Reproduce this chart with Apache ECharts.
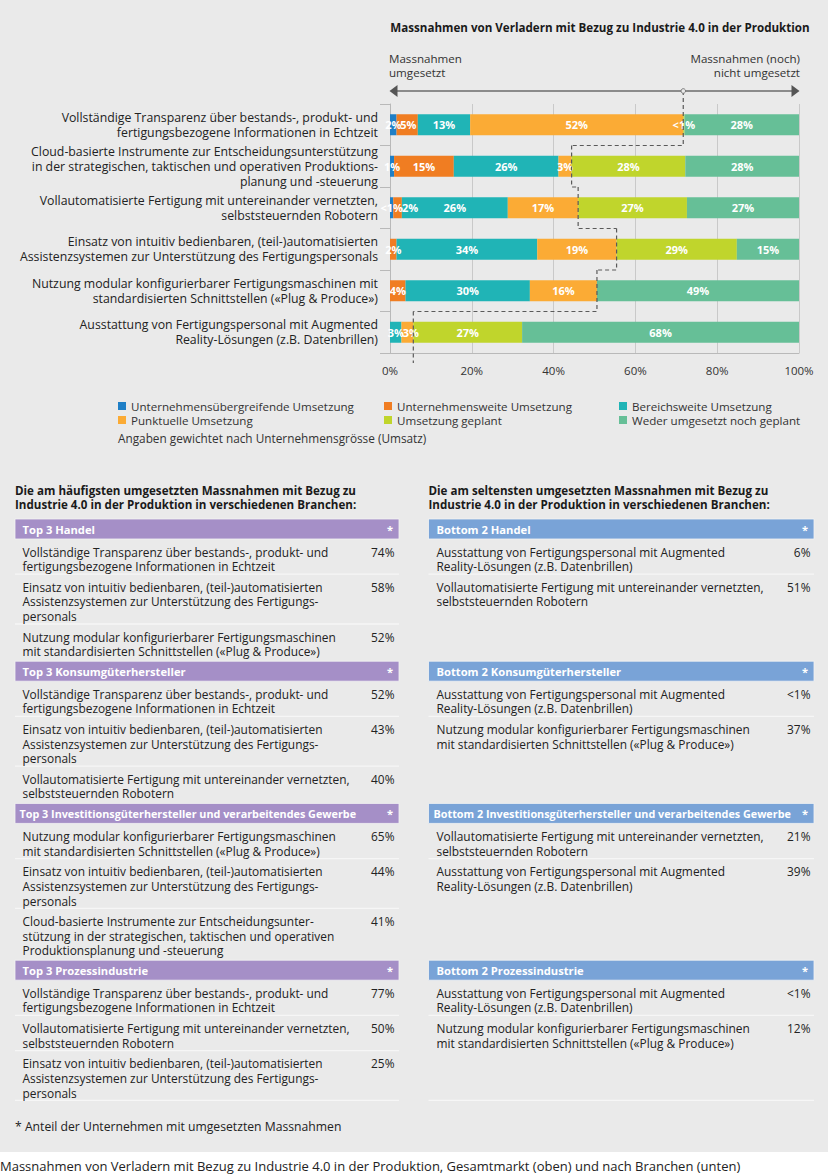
<!DOCTYPE html>
<html><head><meta charset="utf-8">
<script src="https://cdn.jsdelivr.net/npm/echarts@6/dist/echarts.min.js"></script>
<style>html,body{margin:0;padding:0;background:#fff}#c{width:828px;height:1176px}</style>
</head><body><div id="c"></div>
<script>
// ---------- data: top chart ----------
const categories = [
  'Vollständige Transparenz über bestands-, produkt- und\nfertigungsbezogene Informationen in Echtzeit',
  'Cloud-basierte Instrumente zur Entscheidungsunterstützung\nin der strategischen, taktischen und operativen Produktions-\nplanung und -steuerung',
  'Vollautomatisierte Fertigung mit untereinander vernetzten,\nselbststeuernden Robotern',
  'Einsatz von intuitiv bedienbaren, (teil-)automatisierten\nAssistenzsystemen zur Unterstützung des Fertigungspersonals',
  'Nutzung modular konfigurierbarer Fertigungsmaschinen mit\nstandardisierten Schnittstellen («Plug & Produce»)',
  'Ausstattung von Fertigungspersonal mit Augmented\nReality-Lösungen (z.B. Datenbrillen)'
];
const seriesNames = [
  'Unternehmensübergreifende Umsetzung',
  'Unternehmensweite Umsetzung',
  'Bereichsweite Umsetzung',
  'Punktuelle Umsetzung',
  'Umsetzung geplant',
  'Weder umgesetzt noch geplant'
];
const sUebergreifend = [1.6, 1.0, 0.8, 0, 0, 0];
const sUnternehmensweit = [5.2, 14.6, 2.1, 1.6, 3.8, 0];
const sBereichsweit = [12.8, 25.6, 25.9, 34.4, 30.4, 2.8];
const sPunktuell = [52.1, 3.2, 17.2, 19.4, 16.4, 2.9];
const sGeplant = [0.3, 27.8, 26.6, 29.4, 0, 26.6];
const sWeder = [28.0, 27.8, 27.4, 15.2, 49.4, 67.7];
const xTickValues = [0, 20, 40, 60, 80, 100];

// ---------- data: tables ----------
const topHeaders = ['Top 3 Handel', 'Top 3 Konsumgüterhersteller', 'Top 3 Investitionsgüterhersteller und verarbeitendes Gewerbe', 'Top 3 Prozessindustrie'];
const topItems = [
  ['Vollständige Transparenz über bestands-, produkt- und\nfertigungsbezogene Informationen in Echtzeit',
   'Einsatz von intuitiv bedienbaren, (teil-)automatisierten\nAssistenzsystemen zur Unterstützung des Fertigungs-\npersonals',
   'Nutzung modular konfigurierbarer Fertigungsmaschinen\nmit standardisierten Schnittstellen («Plug & Produce»)'],
  ['Vollständige Transparenz über bestands-, produkt- und\nfertigungsbezogene Informationen in Echtzeit',
   'Einsatz von intuitiv bedienbaren, (teil-)automatisierten\nAssistenzsystemen zur Unterstützung des Fertigungs-\npersonals',
   'Vollautomatisierte Fertigung mit untereinander vernetzten,\nselbststeuernden Robotern'],
  ['Nutzung modular konfigurierbarer Fertigungsmaschinen\nmit standardisierten Schnittstellen («Plug & Produce»)',
   'Einsatz von intuitiv bedienbaren, (teil-)automatisierten\nAssistenzsystemen zur Unterstützung des Fertigungs-\npersonals',
   'Cloud-basierte Instrumente zur Entscheidungsunter-\nstützung in der strategischen, taktischen und operativen\nProduktionsplanung und -steuerung'],
  ['Vollständige Transparenz über bestands-, produkt- und\nfertigungsbezogene Informationen in Echtzeit',
   'Vollautomatisierte Fertigung mit untereinander vernetzten,\nselbststeuernden Robotern',
   'Einsatz von intuitiv bedienbaren, (teil-)automatisierten\nAssistenzsystemen zur Unterstützung des Fertigungs-\npersonals']
];
const topShares = [[74, 58, 52], [52, 43, 40], [65, 44, 41], [77, 50, 25]];
const bottomHeaders = ['Bottom 2 Handel', 'Bottom 2 Konsumgüterhersteller', 'Bottom 2 Investitionsgüterhersteller und verarbeitendes Gewerbe', 'Bottom 2 Prozessindustrie'];
const bottomItems = [
  ['Ausstattung von Fertigungspersonal mit Augmented\nReality-Lösungen (z.B. Datenbrillen)',
   'Vollautomatisierte Fertigung mit untereinander vernetzten,\nselbststeuernden Robotern'],
  ['Ausstattung von Fertigungspersonal mit Augmented\nReality-Lösungen (z.B. Datenbrillen)',
   'Nutzung modular konfigurierbarer Fertigungsmaschinen\nmit standardisierten Schnittstellen («Plug & Produce»)'],
  ['Vollautomatisierte Fertigung mit untereinander vernetzten,\nselbststeuernden Robotern',
   'Ausstattung von Fertigungspersonal mit Augmented\nReality-Lösungen (z.B. Datenbrillen)'],
  ['Ausstattung von Fertigungspersonal mit Augmented\nReality-Lösungen (z.B. Datenbrillen)',
   'Nutzung modular konfigurierbarer Fertigungsmaschinen\nmit standardisierten Schnittstellen («Plug & Produce»)']
];
const bottomShares = [[6, 51], [0.5, 37], [21, 39], [0.5, 12]];

// ---------- styling ----------
const FONT = '"Open Sans", "Liberation Sans", sans-serif';
const BG = '#eaeaea';
const colors = ['#1f7fc6', '#f07d22', '#20b4b6', '#fbab35', '#c0d52c', '#66bf97'];
const pct = v => (v > 0 && v < 1) ? '<1%' : Math.round(v) + '%';
const GRID = { left: 390, top: 104, width: 409, height: 249 };

const seriesData = [sUebergreifend, sUnternehmensweit, sBereichsweit, sPunktuell, sGeplant, sWeder];
const implemented = categories.map((c, i) => sUebergreifend[i] + sUnternehmensweit[i] + sBereichsweit[i] + sPunktuell[i]);
const stepData = implemented.map((v, i) => [v, i, i < implemented.length - 1 ? implemented[i + 1] : -1]);

// push labels of narrow neighbouring segments to the right so they sit side by side
const labelDx = seriesData.map(() => categories.map(() => 0));
const pxPerUnit = GRID.width / 100;
categories.forEach((c, i) => {
  let cum = 0, prev = null;
  seriesData.forEach((s, k) => {
    const v = s[i];
    if (v > 0) {
      const cx = (cum + v / 2) * pxPerUnit;
      const w = pct(v).length * 7.0 + 1;
      const cur = { k: k, cx: cx, w: w };
      if (prev) {
        const gap = (cur.cx - cur.w / 2) - (prev.cx + labelDx[prev.k][i] + prev.w / 2);
        if (gap < 0) labelDx[k][i] -= gap;
      }
      prev = cur;
    }
    cum += v;
  });
});

function T(x, y, text, o) {
  o = o || {};
  return {
    type: 'text', x: x, y: y, silent: true, z: o.z || 10,
    style: {
      text: text, fill: o.fill || '#222',
      font: (o.weight || 'normal') + ' ' + (o.size || 12) + 'px ' + FONT,
      align: o.align || 'left', textAlign: o.align || 'left',
      verticalAlign: o.va || 'middle', textVerticalAlign: o.va || 'middle',
      lineHeight: o.lh || undefined
    }
  };
}

const g = [];
// white caption strip
g.push({ type: 'rect', shape: { x: 0, y: 1152, width: 828, height: 24 }, style: { fill: '#fff' }, silent: true, z: 1 });
g.push(T(0, 1166, 'Massnahmen von Verladern mit Bezug zu Industrie 4.0 in der Produktion, Gesamtmarkt (oben) und nach Branchen (unten)', { size: 13, fill: '#222' }));
// top title and arrow
g.push(T(600, 27, 'Massnahmen von Verladern mit Bezug zu Industrie 4.0 in der Produktion', { weight: 'bold', size: 11.6, align: 'center', fill: '#1a1a1a' }));
g.push(T(389, 51, 'Massnahmen\numgesetzt', { size: 11.6, va: 'top', lh: 14.2, fill: '#333' }));
g.push(T(800, 51, 'Massnahmen (noch)\nnicht umgesetzt', { size: 11.6, va: 'top', lh: 14.2, align: 'right', fill: '#333' }));
g.push({ type: 'line', shape: { x1: 396, y1: 91, x2: 793, y2: 91 }, style: { stroke: '#6b6b6b', lineWidth: 1.5 }, silent: true, z: 5 });
g.push({ type: 'polygon', shape: { points: [[389.5, 91], [397.5, 85], [397.5, 97]] }, style: { fill: '#555' }, silent: true, z: 5 });
g.push({ type: 'polygon', shape: { points: [[799.5, 91], [791.5, 85], [791.5, 97]] }, style: { fill: '#555' }, silent: true, z: 5 });
g.push(T(118, 438, 'Angaben gewichtet nach Unternehmensgrösse (Umsatz)', { size: 11.8, fill: '#333' }));

// section titles
g.push(T(15, 483, 'Die am häufigsten umgesetzten Massnahmen mit Bezug zu\nIndustrie 4.0 in der Produktion in verschiedenen Branchen:', { weight: 'bold', size: 11.6, va: 'top', lh: 14.5, fill: '#1a1a1a' }));
g.push(T(428.5, 483, 'Die am seltensten umgesetzten Massnahmen mit Bezug zu\nIndustrie 4.0 in der Produktion in verschiedenen Branchen:', { weight: 'bold', size: 11.6, va: 'top', lh: 14.5, fill: '#1a1a1a' }));

// tables
const LH = 14.6, PAD = 6, HEAD = 20, GAP = 2, START = 519;
const rowH = t => t.split('\n').length * LH + PAD;
const headY = [];
let yy = START;
topItems.forEach(rows => { headY.push(yy); yy += HEAD; rows.forEach(r => { yy += rowH(r); }); yy += GAP; });
const tableEnd = yy - GAP;
const cols = [
  { x0: 15, x1: 399, tx: 22.5, px: 394.5, color: '#a58fc7', heads: topHeaders, items: topItems, vals: topShares },
  { x0: 428.5, x1: 814, tx: 436.5, px: 810.5, color: '#79a3d7', heads: bottomHeaders, items: bottomItems, vals: bottomShares }
];
const SEP = '#f6f6f6';
cols.forEach((c, ci) => {
  c.heads.forEach((h, b) => {
    const hy = headY[b];
    g.push({ type: 'rect', shape: { x: c.x0, y: hy, width: c.x1 - c.x0, height: HEAD }, style: { fill: c.color, stroke: '#f4f4f4', lineWidth: 0.8 }, silent: true, z: 5 });
    g.push(T(c.tx - (h.length > 50 ? 3 : 0), hy + HEAD / 2 + 0.5, h, { weight: 'bold', size: h.length > 50 ? 10.8 : 11.2, fill: '#fff' }));
    g.push(T(c.x1 - 6, hy + HEAD / 2, '*', { weight: 'bold', size: 11, fill: '#fff', align: 'right' }));
    let ry = hy + HEAD;
    c.items[b].forEach((t, r) => {
      g.push(T(c.tx, ry + 5.4, t, { size: 11.9, va: 'top', lh: LH, fill: '#222' }));
      g.push(T(c.px, ry + 5.4, pct(c.vals[b][r]), { size: 11.9, va: 'top', lh: LH, fill: '#222', align: 'right' }));
      ry += rowH(t);
      if (r < c.items[b].length - 1) {
        g.push({ type: 'line', shape: { x1: c.x0, y1: ry, x2: c.x1, y2: ry }, style: { stroke: SEP, lineWidth: 1.3 }, silent: true, z: 5 });
      }
    });
  });
  g.push({ type: 'line', shape: { x1: c.x0, y1: tableEnd, x2: c.x1, y2: tableEnd }, style: { stroke: SEP, lineWidth: 1.3 }, silent: true, z: 5 });
});
g.push(T(15, 1126, '* Anteil der Unternehmen mit umgesetzten Massnahmen', { size: 12.2, fill: '#222' }));

// ---------- chart ----------
const chart = echarts.init(document.getElementById('c'), null, { renderer: 'svg' });
const barSeries = seriesNames.map((name, k) => ({
  name: name, type: 'bar', stack: 'total', barWidth: 21, z: 2,
  itemStyle: { color: colors[k] },
  label: {
    show: true, position: 'inside', color: '#fff', fontWeight: 'bold', fontSize: 11, fontFamily: FONT,
    formatter: p => p.value > 0 ? pct(p.value) : ''
  },
  data: seriesData[k].map((v, i) => ({ value: v, label: { offset: [labelDx[k][i], 0] } }))
}));

const legendBase = {
  orient: 'vertical', icon: 'rect', itemWidth: 8, itemHeight: 8, itemGap: 0, top: 394, selectedMode: false,
  textStyle: { fontSize: 11.6, color: '#333', fontFamily: FONT, lineHeight: 14 }
};

chart.setOption({
  backgroundColor: BG,
  animation: false,
  textStyle: { fontFamily: FONT },
  grid: Object.assign({ containLabel: false }, GRID),
  legend: [
    Object.assign({}, legendBase, { left: 113, data: [seriesNames[0], seriesNames[3]] }),
    Object.assign({}, legendBase, { left: 379, data: [seriesNames[1], seriesNames[4]] }),
    Object.assign({}, legendBase, { left: 614, data: [seriesNames[2], seriesNames[5]] })
  ],
  xAxis: {
    type: 'value', min: xTickValues[0], max: xTickValues[xTickValues.length - 1], interval: xTickValues[1] - xTickValues[0],
    axisLine: { show: true, lineStyle: { color: '#b9b9b9' } },
    axisTick: { show: false },
    splitLine: { show: true, lineStyle: { color: '#c9c9c9', width: 1 } },
    axisLabel: { formatter: v => v + '%', color: '#333', fontSize: 11.5, margin: 11, fontFamily: FONT }
  },
  yAxis: {
    type: 'category', inverse: true, data: categories,
    axisLine: { show: true, lineStyle: { color: '#b9b9b9' } },
    axisTick: { show: true, length: 10, lineStyle: { color: '#b9b9b9' } },
    axisLabel: { color: '#222', fontSize: 12.3, lineHeight: 15, margin: 12, align: 'right', fontFamily: FONT }
  },
  series: barSeries.concat([{
    type: 'custom', name: 'step', z: 5, clip: false, silent: true,
    encode: { x: 0, y: 1 },
    data: stepData,
    renderItem: function (params, api) {
      const i = api.value(1), x = api.value(0), nx = api.value(2);
      const p = api.coord([x, i]);
      const h = api.size([0, 1])[1];
      const n = categories.length;
      const top = i === 0 ? params.coordSys.y - 13 : p[1] - h / 2;
      const bottom = i === n - 1 ? p[1] + h / 2 + 10 : p[1] + h / 2;
      const pts = [[p[0], top], [p[0], bottom]];
      if (nx >= 0) pts.push([api.coord([nx, i])[0], bottom]);
      const children = [{
        type: 'polyline', shape: { points: pts },
        style: { stroke: '#5a5a5a', lineWidth: 1.2, lineDash: [4, 3], fill: null }
      }];
      if (i === 0) children.push({ type: 'circle', shape: { cx: p[0], cy: top, r: 2.3 }, style: { fill: BG, stroke: '#777', lineWidth: 1 } });
      return { type: 'group', children: children };
    }
  }]),
  graphic: { elements: g }
});
</script>
</body></html>
